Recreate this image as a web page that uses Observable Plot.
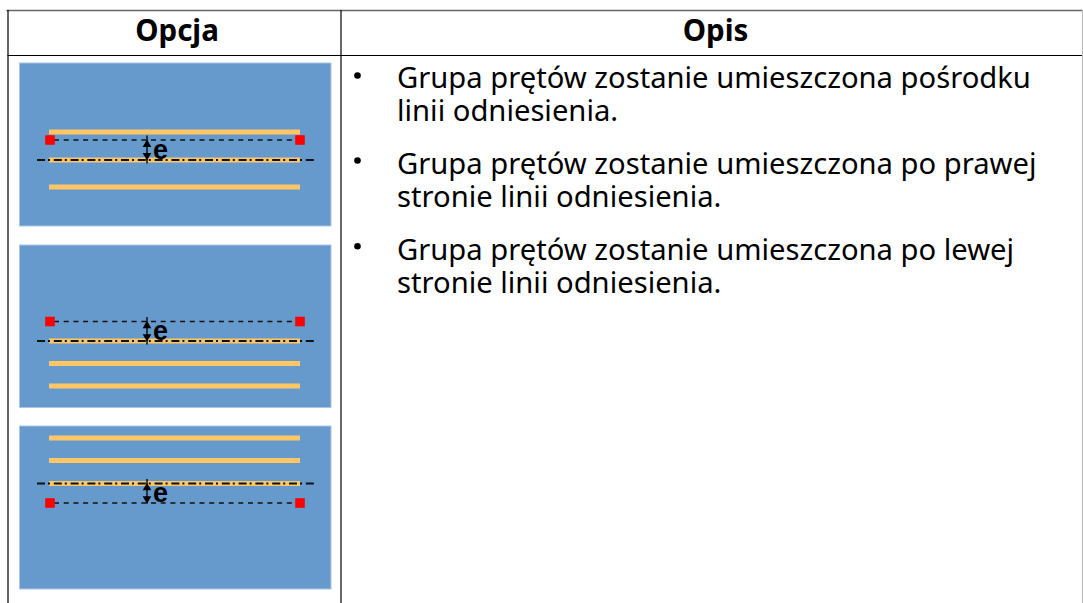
<!DOCTYPE html>
<html><head><meta charset="utf-8">
<script src="https://cdn.jsdelivr.net/npm/d3@7"></script>
<script src="https://cdn.jsdelivr.net/npm/@observablehq/plot@0.6"></script>
<style>html,body{margin:0;padding:0;background:#fff}svg{display:block}</style>
</head><body><div id="chart"></div>
<script>
const headers = [{label:"Opcja", x:176.5},{label:"Opis", x:715}];
const headerY = 31;
const bulletY = [75, 160, 245.7];
const firstLineY = [78, 164, 250];
const bulletText = [
  ["Grupa prętów zostanie umieszczona pośrodku","linii odniesienia."],
  ["Grupa prętów zostanie umieszczona po prawej","stronie linii odniesienia."],
  ["Grupa prętów zostanie umieszczona po lewej","stronie linii odniesienia."]
];
const lineStep = 33.5;
const bulletX = 357, textX = 396.5;
const tableLeft = 7.5, tableMid = 340.5, tableRight = 1082, tableTop = 10, headerBottom = 55, tableBottom = 603;
const panelTops = [63, 245, 426];
const panelBottoms = [226, 407.5, 589];
const panelX = [19.5, 331];
const rodX = [49, 300];
const rodYs = [[131.5,159.5,186.5],[340.5,363,385.5],[437.5,460,483]];
const refY = [159.5,340.5,483];
const offsetY = [139.5,321,502.5];
const arrowX = 146.5;
const refX = [37, 314];
const offsetX = [54, 296];
const squareX = [49.5, 299.5];
const labelE = "e";

const panels = panelTops.map((t,i)=>({t,b:panelBottoms[i]}));
const rods = rodYs.flat().map(y=>({y}));
const squares = offsetY.flatMap(y=>squareX.map(x=>({x,y})));
const arrows = offsetY.map((o,i)=>{const r=refY[i],up=o<r;return {top:up?o-4:r-4,bot:up?r+4:o+1,a:(o+r)/2-5.5,b:(o+r)/2+5.5,mid:(o+r)/2}});
const textRows = bulletText.flatMap((ls,i)=>ls.map((s,j)=>({s,y:firstLineY[i]+j*lineStep})));
const fontBody = "'Noto Sans','Open Sans',sans-serif";

const svg = Plot.plot({
  width:1083,height:603,margin:0,
  x:{type:"linear",domain:[0,1083],range:[0,1083],axis:null},
  y:{type:"linear",domain:[0,603],range:[0,603],axis:null},
  style:{background:"#fff"},
  marks:[
    Plot.rect(panels,{x1:panelX[0],x2:panelX[1],y1:"t",y2:"b",fill:"#6699cc",stroke:"#a9c6e6",strokeWidth:1,ariaLabel:"panel"}),
    Plot.ruleY(rods,{y:"y",x1:rodX[0],x2:rodX[1],stroke:"#ffc666",strokeWidth:5,ariaLabel:"rod"}),
    Plot.ruleY(offsetY,{x1:offsetX[0],x2:offsetX[1],stroke:"#111",strokeWidth:1.7,strokeDasharray:"5,4.7",ariaLabel:"offset"}),
    Plot.ruleY(refY,{x1:refX[0],x2:refX[1],stroke:"#111",strokeWidth:1.9,strokeDasharray:"8,3,2,3.8",ariaLabel:"reference"}),
    Plot.ruleX(arrows,{x:arrowX,y1:"top",y2:"bot",stroke:"#111",strokeWidth:1.5,ariaLabel:"dim"}),
    Plot.dot(arrows,{x:arrowX,y:"a",r:3.2,symbol:"triangle",fill:"#000",ariaLabel:"arrowup"}),
    Plot.dot(arrows,{x:arrowX,y:"b",r:3.2,symbol:"triangle",fill:"#000",rotate:180,ariaLabel:"arrowdown"}),
    Plot.text(arrows,{x:160,y:"mid",text:()=>labelE,fontFamily:"'Liberation Sans',sans-serif",fontSize:27,fontWeight:700,fill:"#000",ariaLabel:"dimlabel"}),
    Plot.dot(squares,{x:"x",y:"y",symbol:"square",r:5.4,fill:"#fe0000",ariaLabel:"square"}),
    Plot.ruleY([tableTop],{x1:tableLeft-1,x2:1083,stroke:"#666",strokeWidth:1.5}),
    Plot.ruleY([headerBottom],{x1:tableLeft,x2:tableRight,stroke:"#000",strokeWidth:1}),
    Plot.ruleX([tableLeft,tableMid],{y1:tableTop,y2:tableBottom,stroke:"#000",strokeWidth:1.2}),
    Plot.ruleX([tableRight],{y1:tableTop,y2:tableBottom,stroke:"#bbb",strokeWidth:1.2}),
    Plot.text(headers,{x:"x",y:headerY,text:"label",fontFamily:fontBody,fontSize:29.5,fontWeight:700,fill:"#000",ariaLabel:"headers"}),
    Plot.text(textRows,{x:textX,y:"y",text:"s",textAnchor:"start",fontFamily:fontBody,fontSize:29.2,fill:"#000",ariaLabel:"body"}),
    Plot.dot(bulletY,{x:bulletX,y:d=>d,r:3.3,fill:"#000"})
  ]
});
document.getElementById("chart").append(svg);
d3.select(svg).selectAll('[aria-label="panel"],[aria-label="rod"],[aria-label="offset"],[aria-label="reference"],[aria-label="dim"],[aria-label="arrowup"],[aria-label="arrowdown"],[aria-label="dimlabel"],[aria-label="square"]').style("filter","blur(0.4px)");
d3.select(svg).selectAll('[aria-label="headers"],[aria-label="body"]').style("filter","blur(0.25px)");
</script></body></html>
